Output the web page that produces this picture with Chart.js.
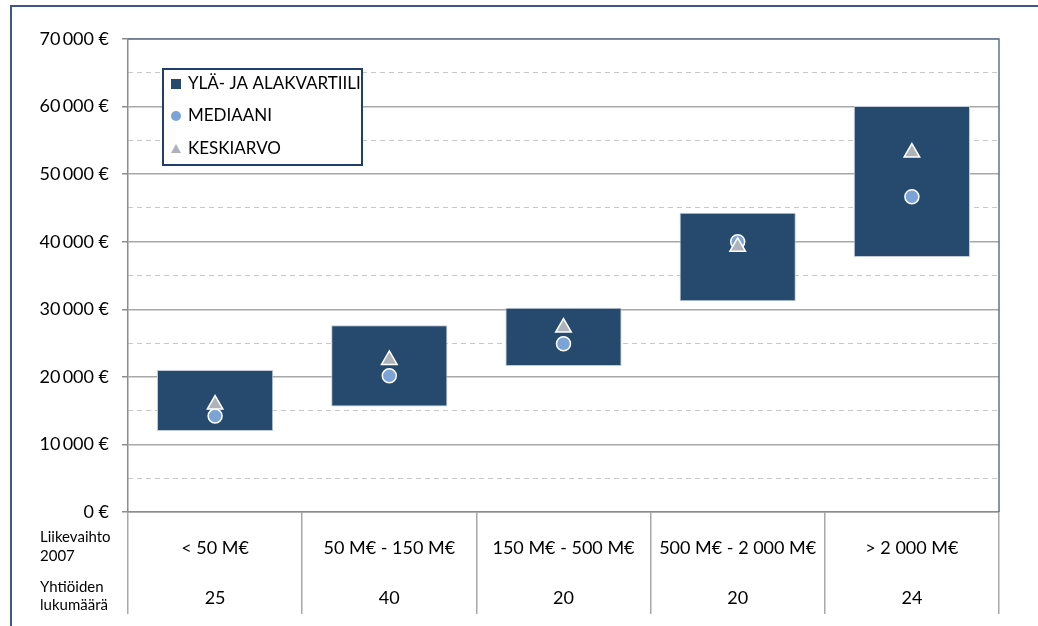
<!DOCTYPE html>
<html lang="fi">
<head>
<meta charset="utf-8">
<title>Palkkiot liikevaihdon mukaan</title>
<script src="https://cdn.jsdelivr.net/npm/chart.js@4.4.1/dist/chart.umd.min.js"></script>
<style>
  html, body { margin: 0; padding: 0; background: #ffffff; }
  canvas { display: block; }
</style>
</head>
<body>
<canvas id="chart" width="1038" height="626"></canvas>
<script>
// Liikevaihtoluokat ja yhtiöiden lukumäärät
const categories = ['< 50 M€', '50 M€ - 150 M€', '150 M€ - 500 M€', '500 M€ - 2 000 M€', '> 2 000 M€'];
const companyCounts = ['25', '40', '20', '20', '24'];

// Ala- ja yläkvartiilit (€)
const lowerQuartile = [12000, 15600, 21600, 31200, 37750];
const upperQuartile = [21000, 27650, 30230, 44300, 60100];

// Mediaani ja keskiarvo (€)
const median = [14200, 20150, 24900, 40000, 46650];
const mean = [15900, 22500, 27300, 39250, 53200];

// Y-akselin asteikko
const yMin = 0;
const yMax = 70000;
const yMajorStep = 10000;
const yMinorStep = 5000;

const seriesNames = ['YLÄ- JA ALAKVARTIILI', 'MEDIAANI', 'KESKIARVO'];
const rowTitles = [['Liikevaihto', '2007'], ['Yhtiöiden', 'lukumäärä']];

const FONT = 'Lato, "Open Sans", sans-serif';
const BOX_COLOR = '#254A6E';
const MEDIAN_COLOR = '#7BA3D6';
const MEAN_COLOR = '#AEB2BA';
const GRID_COLOR = '#A8A8A8';

function euro(v) {
  return String(v).replace(/\B(?=(\d{3})+(?!\d))/g, '\u2009') + ' €';
}

const quartileBars = categories.map((_, i) => [lowerQuartile[i], upperQuartile[i]]);
const xLabels = categories.map((c, i) => [c, '', companyCounts[i]]);

// Kehys, kuva-alueen reunat, rivien otsikot ja selite
const decorations = {
  id: 'decorations',
  beforeDraw(chart) {
    const ctx = chart.ctx;
    ctx.save();
    ctx.strokeStyle = '#3A5883';
    ctx.lineWidth = 2;
    ctx.beginPath();
    ctx.moveTo(11, chart.height + 5);
    ctx.lineTo(11, 6);
    ctx.lineTo(chart.width + 5, 6);
    ctx.stroke();
    ctx.restore();
  },
  beforeDatasetsDraw(chart) {
    const ctx = chart.ctx;
    const a = chart.chartArea;
    ctx.save();
    ctx.strokeStyle = '#60738F';
    ctx.lineWidth = 1.5;
    ctx.beginPath();
    ctx.moveTo(a.left, a.top);
    ctx.lineTo(a.right, a.top);
    ctx.lineTo(a.right, a.bottom);
    ctx.stroke();
    ctx.restore();
  },
  afterDraw(chart) {
    const ctx = chart.ctx;
    const a = chart.chartArea;
    ctx.save();

    // Taulukon rivien otsikot
    ctx.fillStyle = '#000000';
    ctx.font = '15px ' + FONT;
    ctx.textAlign = 'left';
    ctx.textBaseline = 'middle';
    const rowY = [[a.bottom + 25, a.bottom + 44], [a.bottom + 75, a.bottom + 93]];
    rowTitles.forEach((lines, r) => {
      lines.forEach((t, k) => ctx.fillText(t, 40, rowY[r][k]));
    });

    // Selite
    const ds = chart.data.datasets;
    const lx = 163, ly = 69, lw = 199, lh = 96;
    ctx.fillStyle = '#ffffff';
    ctx.fillRect(lx, ly, lw, lh);
    ctx.strokeStyle = '#1F3F69';
    ctx.lineWidth = 2;
    ctx.strokeRect(lx, ly, lw, lh);

    const mx = 176;
    const rows = [84, 116, 149];
    ctx.fillStyle = ds[0].backgroundColor;
    ctx.fillRect(mx - 5, rows[0] - 5, 10, 10);
    ctx.fillStyle = ds[1].backgroundColor;
    ctx.beginPath();
    ctx.arc(mx, rows[1], 5, 0, Math.PI * 2);
    ctx.fill();
    ctx.fillStyle = ds[2].backgroundColor;
    ctx.beginPath();
    ctx.moveTo(mx, rows[2] - 5);
    ctx.lineTo(mx + 5, rows[2] + 4);
    ctx.lineTo(mx - 5, rows[2] + 4);
    ctx.closePath();
    ctx.fill();

    ctx.fillStyle = '#000000';
    ctx.font = '17px ' + FONT;
    ctx.textBaseline = 'middle';
    seriesNames.forEach((n, i) => ctx.fillText(n, 188, rows[i]));
    ctx.restore();
  }
};

new Chart(document.getElementById('chart'), {
  data: {
    labels: xLabels,
    datasets: [
      {
        type: 'bar',
        label: seriesNames[0],
        data: quartileBars,
        backgroundColor: BOX_COLOR,
        borderColor: '#BFCBDA',
        borderWidth: 1,
        borderSkipped: false,
        barPercentage: 0.667,
        categoryPercentage: 1.0,
        order: 3
      },
      {
        type: 'line',
        label: seriesNames[1],
        data: median,
        showLine: false,
        pointStyle: 'circle',
        pointRadius: 7,
        backgroundColor: MEDIAN_COLOR,
        borderColor: '#ffffff',
        borderWidth: 1.5,
        order: 2
      },
      {
        type: 'line',
        label: seriesNames[2],
        data: mean,
        showLine: false,
        pointStyle: 'triangle',
        pointRadius: 9,
        backgroundColor: MEAN_COLOR,
        borderColor: '#ffffff',
        borderWidth: 1.5,
        order: 1
      }
    ]
  },
  options: {
    responsive: false,
    animation: false,
    events: [],
    layout: { padding: { left: 0, top: 39, right: 39, bottom: 0 } },
    plugins: {
      legend: { display: false },
      tooltip: { enabled: false }
    },
    scales: {
      x: {
        type: 'category',
        position: 'bottom',
        offset: true,
        grid: {
          offset: true,
          drawOnChartArea: false,
          drawTicks: true,
          tickLength: 102,
          color: GRID_COLOR,
          lineWidth: 1.5
        },
        border: { display: true, color: '#8C8C8C', width: 1.5 },
        ticks: {
          autoSkip: false,
          maxRotation: 0,
          minRotation: 0,
          padding: -78.5,
          color: '#000000',
          font: { family: FONT, size: 18, lineHeight: 25 / 18 }
        },
        afterFit(scale) { scale.height = 114; }
      },
      y: {
        position: 'left',
        min: yMin,
        max: yMax,
        grid: {
          color: GRID_COLOR,
          lineWidth: 1.5,
          tickLength: 6,
          tickColor: '#8C8C8C'
        },
        border: { display: true, color: '#8C8C8C', width: 1.5 },
        ticks: {
          stepSize: yMajorStep,
          padding: 13,
          color: '#000000',
          font: { family: FONT, size: 18 },
          callback: (v) => euro(v)
        },
        afterFit(scale) { scale.width = 128; }
      },
      yMinor: {
        position: 'right',
        min: yMin,
        max: yMax,
        grid: {
          drawTicks: false,
          color: (c) => (c.tick && c.tick.value % yMajorStep === 0) ? 'rgba(0,0,0,0)' : '#C8C8C8',
          lineWidth: 1
        },
        border: { display: false, dash: [5, 4] },
        ticks: { display: false, stepSize: yMinorStep },
        afterFit(scale) { scale.width = 0; }
      }
    }
  },
  plugins: [decorations]
});
</script>
</body>
</html>
